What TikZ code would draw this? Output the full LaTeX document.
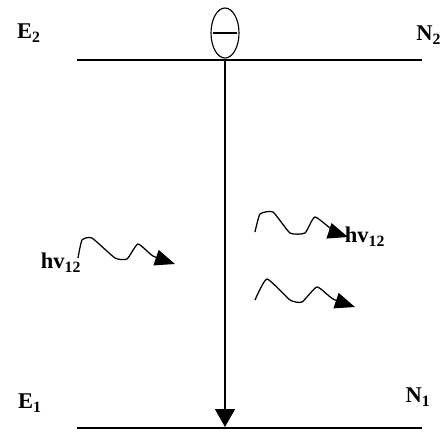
\documentclass[tikz,border=0pt]{standalone}
\usepackage{fontspec}
\setmainfont{Liberation Serif}
\usetikzlibrary{positioning,arrows.meta,shapes.geometric}

\begin{document}
\begin{tikzpicture}[x=0.025cm, y=-0.025cm, font=\fontsize{16}{18}\selectfont\bfseries,
    every node/.style={align=center, inner sep=0pt},
    level/.style={line width=1.4pt},
    photon/.style={line width=0.9pt, -{Triangle[length=0.5cm,width=0.4cm]}}]
  \useasboundingbox (0,0) rectangle (441,437);
  % energy levels
  \coordinate (upperL) at (77,60);
  \coordinate (upperR) at (422,60);
  \coordinate (lowerL) at (77,428);
  \coordinate (lowerR) at (422,428);
  \draw[level] (upperL) -- (upperR);
  \draw[level] (lowerL) -- (lowerR);
  \node (E2) at (29,33) {E\textsubscript{2}};
  \node[anchor=west] (N2) at (416,35) {N\textsubscript{2}};
  \node (E1) at (30,403) {E\textsubscript{1}};
  \node (N1) at (418,397) {N\textsubscript{1}};
  % electron and its transition
  \node[draw, ellipse, line width=0.8pt, minimum width=0.7cm,
        minimum height=1.25cm] (electron) at (225,33) {};
  \draw[line width=0.8pt, shorten <=1.5pt, shorten >=1.5pt]
    (electron.west) -- (electron.east);
  \coordinate (landing) at (225,427);
  \draw[line width=1.1pt, -{Triangle[length=0.45cm,width=0.5cm]}]
    (electron.south) -- (landing);
  % photons
  \node (hvin) at (61,263) {hv\textsubscript{12}};
  \draw[photon] plot[smooth, tension=0.3] coordinates
    {(78,258) (82,240) (92,238) (115,258) (127,259) (138,244) (153,256) (175,264)};
  \node (hvout) at (365,237) {hv\textsubscript{12}};
  \draw[photon] plot[smooth, tension=0.3] coordinates
    {(255,232) (260,214) (273,212) (290,233) (305,233) (315,217) (335,232) (348,237)};
  \draw[photon] plot[smooth, tension=0.3] coordinates
    {(255,300) (267,279) (290,300) (302,302) (317,287) (333,299) (355,307)};
\end{tikzpicture}
\end{document}
